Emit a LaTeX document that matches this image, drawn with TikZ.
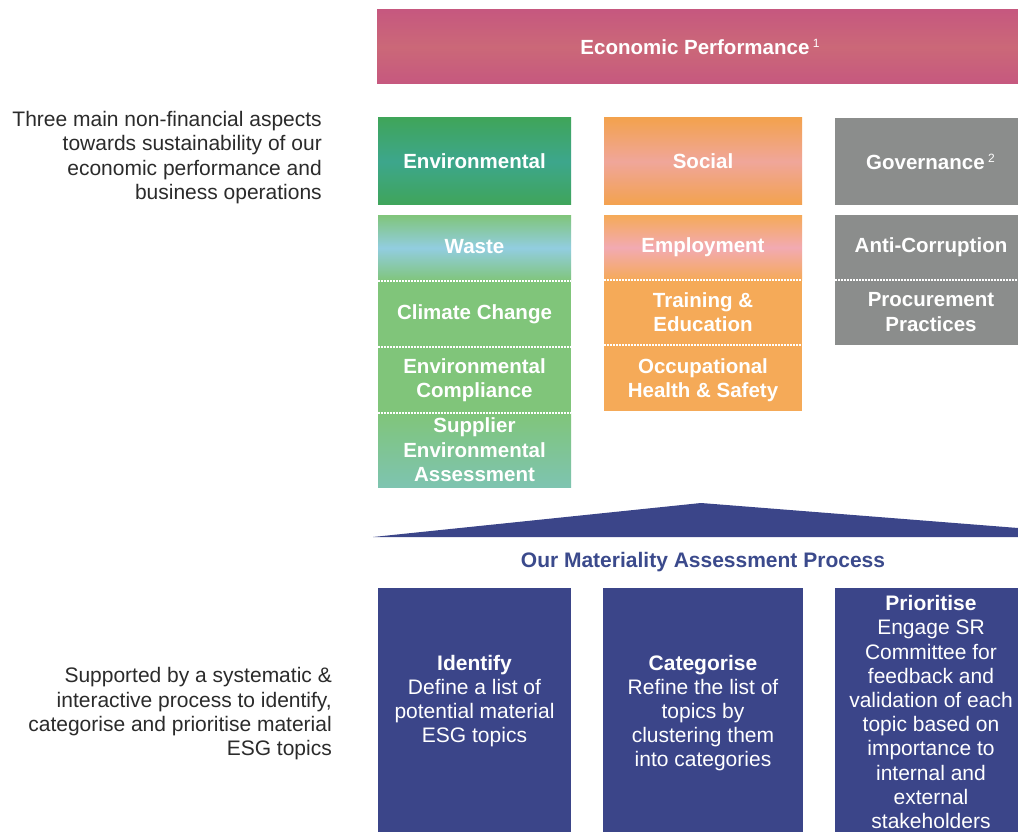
\documentclass[tikz,border=0pt]{standalone}
\usepackage{fontspec}
\setmainfont{Liberation Sans}
\usetikzlibrary{calc}
\definecolor{econ}{HTML}{C6587F}
\definecolor{econmid}{HTML}{CB6878}
\definecolor{envh}{HTML}{3FA55A}
\definecolor{envhmid}{HTML}{3DA68C}
\definecolor{envs}{HTML}{80C57A}
\definecolor{wasteblue}{HTML}{92CDE0}
\definecolor{supblue}{HTML}{7EC4B0}
\definecolor{soch}{HTML}{F3A24E}
\definecolor{sochmid}{HTML}{F0A69A}
\definecolor{socs}{HTML}{F5AA58}
\definecolor{emppink}{HTML}{F2AAB2}
\definecolor{gov}{HTML}{8B8D8C}
\definecolor{navy}{HTML}{3B4589}
\definecolor{titleblue}{HTML}{3B4A8C}
\definecolor{sidetext}{HTML}{2B2B2B}
\begin{document}
\begin{tikzpicture}[x=1pt,y=-1pt,
  boxshape/.style={draw=none,anchor=north west,inner sep=0pt,outer sep=0pt},
  boldtext/.style={text=white,align=center,inner sep=0pt,font=\bfseries\fontsize{20.5}{24.5}\selectfont},
  bodytext/.style={text=white,align=center,inner sep=0pt,font=\fontsize{21}{24.2}\selectfont},
  sidenote/.style={text=sidetext,align=right,anchor=east,inner sep=0pt,font=\fontsize{21}{24.3}\selectfont},
  sep/.style={draw=white,line width=1.2pt,dash pattern=on 2pt off 1pt}]
\useasboundingbox (0,0) rectangle (1018,832);
\fill[white] (0,0) rectangle (1018,832);
% Economic performance bar
\node[boxshape,minimum width=641pt,minimum height=74pt,top color=econ,bottom color=econ,middle color=econmid] (econ) at (377,10) {};
\node[boldtext] (econt) at (700,47) {Economic Performance\,{\mdseries\fontsize{12}{12}\selectfont\raisebox{7pt}{1}}};
% headers
\node[boxshape,minimum width=193pt,minimum height=87pt,top color=envh,bottom color=envh,middle color=envhmid] (envh) at (378,118) {};
\node[boxshape,minimum width=198pt,minimum height=87pt,top color=soch,bottom color=soch,middle color=sochmid] (soch) at (604,118) {};
\node[boxshape,minimum width=183pt,minimum height=87pt,fill=gov] (govh) at (835,118) {};
\node[boldtext] (envht) at (envh.center) {Environmental};
\node[boldtext] (socht) at (soch.center) {Social};
\node[boldtext] (govht) at ($(govh.center)+(4,0)$) {Governance\,{\mdseries\fontsize{12}{12}\selectfont\raisebox{7pt}{2}}};
% environmental topics
\node[boxshape,minimum width=193pt,minimum height=66pt,top color=envs,bottom color=envs,middle color=wasteblue] (waste) at (378,215) {};
\node[boxshape,minimum width=193pt,minimum height=66pt,fill=envs] (climate) at (378,281) {};
\node[boxshape,minimum width=193pt,minimum height=66pt,fill=envs] (envcomp) at (378,347) {};
\node[boxshape,minimum width=193pt,minimum height=74pt,top color=envs,bottom color=supblue] (supplier) at (378,413) {};
\draw[sep] (waste.south west) -- (waste.south east);
\draw[sep] (climate.south west) -- (climate.south east);
\draw[sep] (envcomp.south west) -- (envcomp.south east);
\node[boldtext] (wastet) at (474.5,247) {Waste};
\node[boldtext] (climatet) at (474.5,314) {Climate Change};
\node[boldtext] (envcompt) at (474.5,380) {Environmental\\Compliance};
\node[boldtext] (suppliert) at (474.5,450) {Supplier\\Environmental\\Assessment};
% social topics
\node[boxshape,minimum width=198pt,minimum height=65pt,top color=socs,bottom color=socs,middle color=emppink] (employ) at (604,215) {};
\node[boxshape,minimum width=198pt,minimum height=65pt,fill=socs] (training) at (604,280) {};
\node[boxshape,minimum width=198pt,minimum height=66pt,fill=socs] (occup) at (604,345) {};
\draw[sep] (employ.south west) -- (employ.south east);
\draw[sep] (training.south west) -- (training.south east);
\node[boldtext] (employt) at (703,247) {Employment};
\node[boldtext] (trainingt) at (703,312) {Training \&\\Education};
\node[boldtext] (occupt) at (703,380) {Occupational\\Health \& Safety};
% governance topics
\node[boxshape,minimum width=183pt,minimum height=65pt,fill=gov] (anti) at (835,215) {};
\node[boxshape,minimum width=183pt,minimum height=65pt,fill=gov] (procure) at (835,280) {};
\draw[sep] (anti.south west) -- (anti.south east);
\node[boldtext] (antit) at (931,247) {Anti-Corruption};
\node[boldtext] (procuret) at (931,312) {Procurement\\Practices};
% roof
\fill[navy] (373,537) -- (701,503) -- (1018,528) -- (1018,537) -- cycle;
\node[inner sep=0pt,text=titleblue,font=\bfseries\fontsize{21}{24}\selectfont] (title) at (703,562) {Our Materiality Assessment Process};
% process boxes
\node[boxshape,minimum width=193pt,minimum height=244pt,fill=navy] (ident) at (378,588) {};
\node[boxshape,minimum width=200pt,minimum height=244pt,fill=navy] (categ) at (603,588) {};
\node[boxshape,minimum width=183pt,minimum height=244pt,fill=navy] (prior) at (835,588) {};
\node[bodytext] (identt) at (474.5,701) {\textbf{Identify}\\Define a list of\\potential material\\ESG topics};
\node[bodytext] (categt) at (703,713) {\textbf{Categorise}\\Refine the list of\\topics by\\clustering them\\into categories};
\node[bodytext] (priort) at (931,712) {\textbf{Prioritise}\\Engage SR\\Committee for\\feedback and\\validation of each\\topic based on\\importance to\\internal and\\external\\stakeholders};
% side notes
\node[sidenote] (note1) at (322,157.5) {Three main non-financial aspects\\towards sustainability of our\\economic performance and\\business operations};
\node[sidenote] (note2) at (332,714) {Supported by a systematic \&\\interactive process to identify,\\categorise and prioritise material\\ESG topics};
\end{tikzpicture}
\end{document}
